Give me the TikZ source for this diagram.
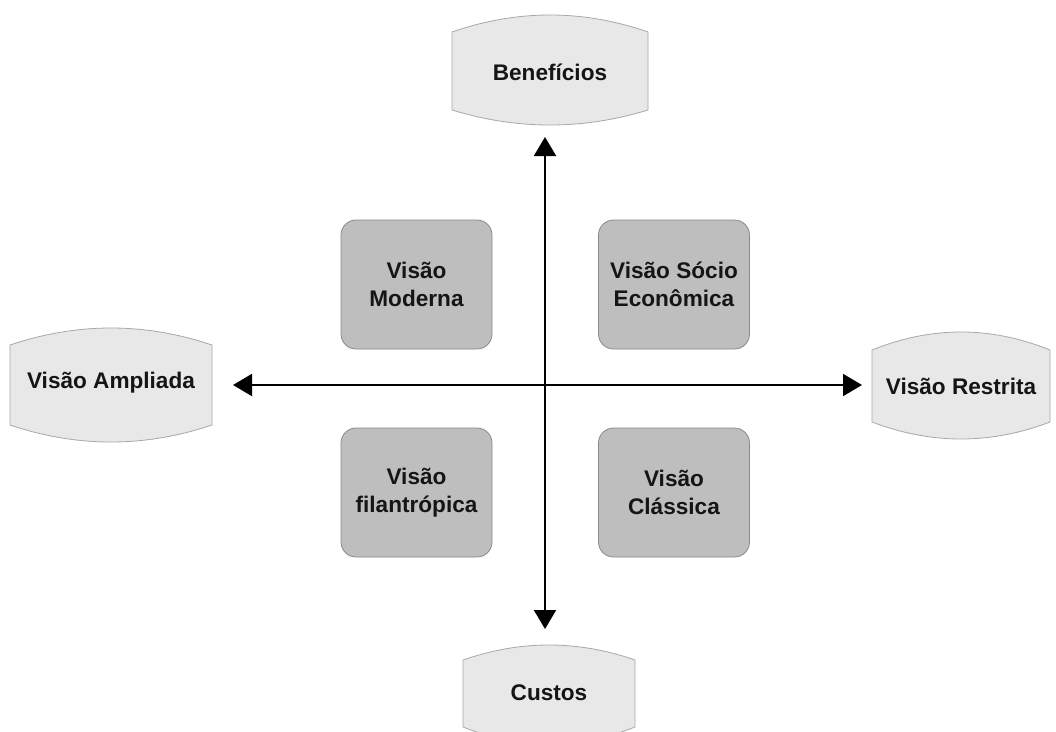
\documentclass[tikz,border=0pt]{standalone}
\usepackage{fontspec}
\setmainfont{Liberation Sans}
\usetikzlibrary{arrows.meta}
\definecolor{ofill}{HTML}{E8E8E8}
\definecolor{odraw}{HTML}{A8A8A8}
\definecolor{ifill}{HTML}{BEBEBE}
\definecolor{idraw}{HTML}{8A8A8A}
\definecolor{tcol}{HTML}{151515}
\newcommand\myobox[9]{% name, xl, xr, ytc, yts, ybs, ybc, baseline, text
  \path[oshape] (#2,#5) .. controls ({#2+(#3-#2)/3},{#5-4/3*(#5-#4)}) and ({#3-(#3-#2)/3},{#5-4/3*(#5-#4)}) .. (#3,#5)
     -- (#3,#6) .. controls ({#3-(#3-#2)/3},{#6+4/3*(#7-#6)}) and ({#2+(#3-#2)/3},{#6+4/3*(#7-#6)}) .. (#2,#6) -- cycle;
  \node[otext] (#1) at ({(#2+#3)/2},#8) {#9};
}
\begin{document}
\begin{tikzpicture}[x=1pt,y=-1pt,
  oshape/.style={fill=ofill,draw=odraw,line width=0.8pt},
  otext/.style={anchor=base,inner sep=0pt,text=tcol,font=\fontsize{22.6}{28}\selectfont\bfseries},
  ibox/.style={fill=ifill,draw=idraw,line width=0.8pt,rounded corners=15pt,minimum width=151pt,minimum height=129pt,
    align=center,inner sep=0pt,text=tcol,font=\fontsize{22.6}{28}\selectfont\bfseries},
  axis/.style={line width=2pt,{Triangle[width=22pt,length=19pt]}-{Triangle[width=22pt,length=19pt]}}]
\useasboundingbox (0,0) rectangle (1056,731);
\fill[white] (0,0) rectangle (1056,731);
% outer boxes
\myobox{ben}{452}{648}{15}{32}{110}{125}{80}{Benefícios}
\myobox{amp}{10}{212}{328}{345}{425}{442}{388}{Visão Ampliada}
\myobox{res}{872}{1050}{332}{350}{422}{439}{394}{Visão Restrita}
\myobox{cus}{463}{635}{645}{660}{727}{744}{700}{Custos}
% inner boxes
\node[ibox] (mod) at (416.5,284.5) {Visão\\Moderna};
\node[ibox] (soc) at (674,284.5) {Visão Sócio\\Econômica};
\node[ibox] (fil) at (416.5,492.5) {Visão\\filantrópica};
\node[ibox] (cla) at (674,492.5) {Visão\\Clássica};
% axes
\coordinate (hl) at (233,385);
\coordinate (hr) at (862,385);
\coordinate (vt) at (545,137);
\coordinate (vb) at (545,629);
\draw[axis] (hl) -- (hr);
\draw[axis] (vb) -- (vt);
\end{tikzpicture}
\end{document}
